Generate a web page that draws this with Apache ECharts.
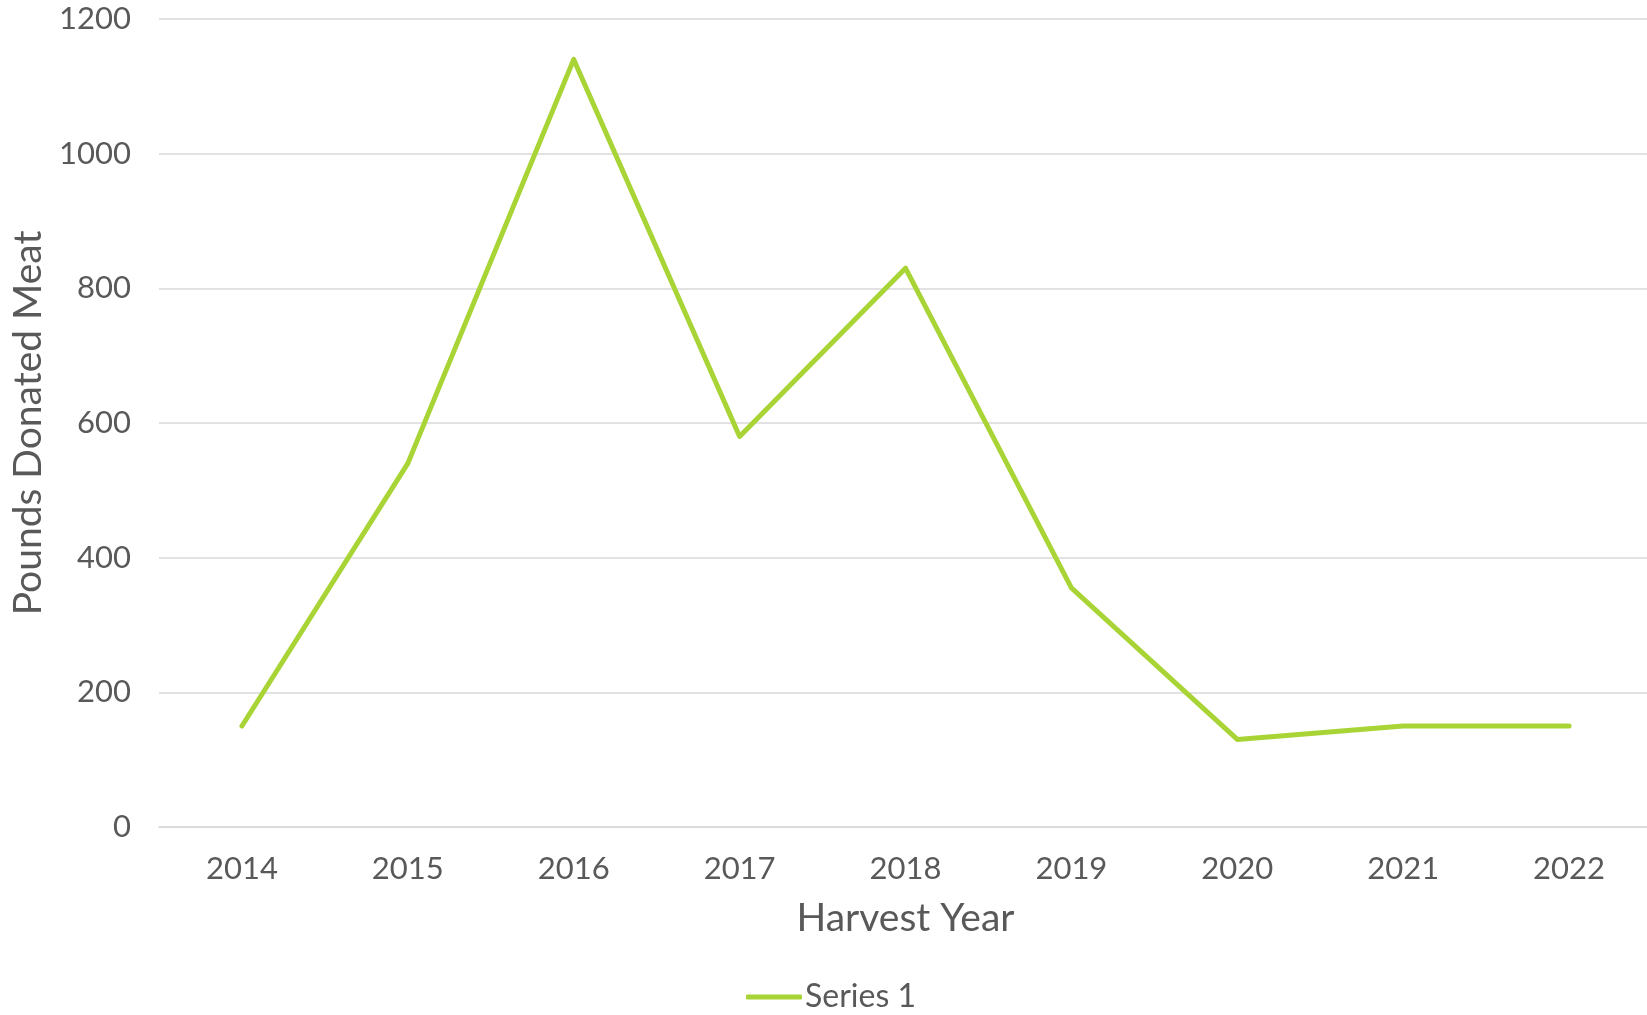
<!DOCTYPE html>
<html>
<head>
<meta charset="utf-8">
<script src="https://cdn.jsdelivr.net/npm/echarts@6/dist/echarts.min.js"></script>
<style>
html,body{margin:0;padding:0;background:#fff;}
#chart{width:1647px;height:1015px;}
</style>
</head>
<body>
<div id="chart"></div>
<script>
const categories = ['2014','2015','2016','2017','2018','2019','2020','2021','2022'];
const series1 = [150, 540, 1140, 580, 830, 355, 130, 150, 150];
const seriesName = 'Series 1';
const xAxisName = 'Harvest Year';
const yAxisName = 'Pounds Donated Meat';

const FONT = 'Lato';
const TXT = '#595959';

const chart = echarts.init(document.getElementById('chart'), null, {renderer: 'canvas'});
chart.setOption({
  backgroundColor: '#ffffff',
  animation: false,
  grid: {left: 159, right: -5, top: 19, bottom: 188, containLabel: false, outerBoundsMode: 'none'},
  legend: {
    show: true,
    data: [seriesName],
    left: 741,
    bottom: -3,
    icon: 'roundRect',
    itemWidth: 56,
    itemHeight: 5,
    itemGap: 10,
    textStyle: {color: TXT, fontFamily: FONT, fontSize: 32, padding: [0,0,0,-2]}
  },
  xAxis: {
    type: 'category',
    data: categories,
    boundaryGap: true,
    name: xAxisName,
    nameLocation: 'middle',
    nameGap: 72,
    nameTextStyle: {color: TXT, fontFamily: FONT, fontSize: 39},
    axisLine: {show: true, lineStyle: {color: '#d9d9d9', width: 1.5}},
    axisTick: {show: false},
    axisLabel: {color: TXT, fontFamily: FONT, fontSize: 31, margin: 26},
    splitLine: {show: false}
  },
  yAxis: {
    type: 'value',
    min: 0,
    max: 1200,
    interval: 200,
    name: yAxisName,
    nameLocation: 'middle',
    nameGap: 89,
    nameTextStyle: {color: TXT, fontFamily: FONT, fontSize: 39},
    axisLine: {show: false},
    axisTick: {show: false},
    axisLabel: {color: TXT, fontFamily: FONT, fontSize: 31, margin: 28, formatter: function (v) { return String(v); }},
    splitLine: {show: true, lineStyle: {color: '#d9d9d9', width: 1.5}}
  },
  series: [{
    name: seriesName,
    type: 'line',
    data: series1,
    symbol: 'none',
    showSymbol: false,
    color: '#A9D436',
    lineStyle: {color: '#A9D436', width: 5, cap: 'round', join: 'round'}
  }]
});
</script>
</body>
</html>
